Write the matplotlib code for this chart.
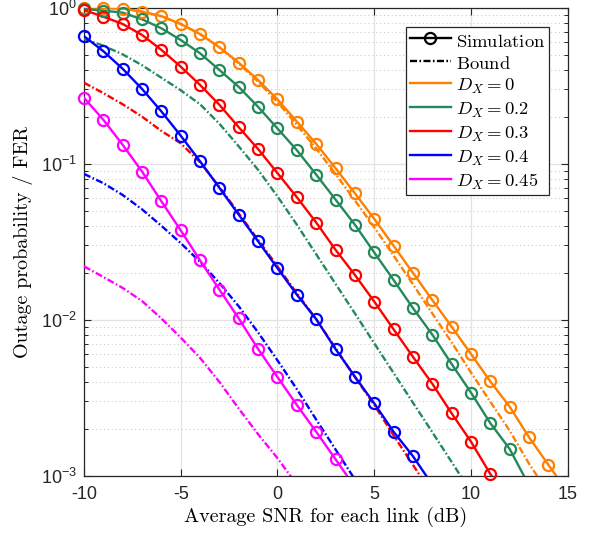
import numpy as np
import matplotlib
matplotlib.use("Agg")
import matplotlib.pyplot as plt
from matplotlib.lines import Line2D
from matplotlib.ticker import LogLocator, NullFormatter, FixedLocator

plt.rcParams['mathtext.fontset'] = 'cm'
plt.rcParams['font.family'] = ['Liberation Sans', 'DejaVu Sans']
plt.rcParams['axes.unicode_minus'] = False

# ---------------- data ----------------
snr_start = -10
orange_sim = [1.0, 0.995, 0.985, 0.94, 0.88, 0.784, 0.676, 0.556, 0.443, 0.343, 0.258,
              0.186, 0.134, 0.0935, 0.0646, 0.0443, 0.0298, 0.020, 0.0134, 0.00904,
              0.00605, 0.00403, 0.00278, 0.00177, 0.00118, 0.00079]
orange_bound = [1.0, 0.995, 0.985, 0.94, 0.88, 0.784, 0.676, 0.556, 0.438, 0.335, 0.248,
                0.177, 0.125, 0.0859, 0.0582, 0.0392, 0.0258, 0.0169, 0.011, 0.00718,
                0.0046, 0.00299, 0.00195, 0.0012, 0.00078]
green_sim = [0.978, 0.955, 0.927, 0.84, 0.736, 0.619, 0.509, 0.398, 0.31, 0.231, 0.168,
             0.122, 0.0851, 0.0589, 0.0407, 0.027, 0.018, 0.0119, 0.00805, 0.00522,
             0.00342, 0.00218, 0.00149, 0.00087]
green_bound = [0.631, 0.569, 0.501, 0.427, 0.355, 0.295, 0.240, 0.180, 0.129, 0.0912,
               0.0617, 0.0407, 0.0263, 0.0170, 0.0110, 0.00708, 0.00457, 0.00295,
               0.00191, 0.00123, 0.00079]
red_sim = [0.964, 0.873, 0.784, 0.667, 0.535, 0.418, 0.319, 0.238, 0.171, 0.124, 0.087,
           0.061, 0.042, 0.0281, 0.0194, 0.0131, 0.0087, 0.0058, 0.0039, 0.00252,
           0.00166, 0.00103, 0.00066]
red_bound = [0.33, 0.283, 0.24, 0.2, 0.162, 0.135, 0.102, 0.071, 0.048, 0.0325, 0.022,
             0.0148, 0.0101, 0.0066, 0.0043, 0.00285, 0.00182, 0.00118, 0.00076]
blue_sim = [0.655, 0.525, 0.405, 0.301, 0.216, 0.151, 0.1035, 0.0699, 0.0471, 0.0318,
            0.0214, 0.0145, 0.0101, 0.0065, 0.00433, 0.00292, 0.00192, 0.00134, 0.00088]
blue_bound = [0.086, 0.075, 0.063, 0.051, 0.040, 0.031, 0.0235, 0.0172, 0.0122, 0.0083,
              0.0055, 0.0036, 0.0023, 0.00148, 0.00095, 0.0006]
magenta_sim = [0.264, 0.191, 0.132, 0.089, 0.0574, 0.0374, 0.024, 0.0156, 0.0102, 0.0065,
               0.0043, 0.00285, 0.00192, 0.00128, 0.00085]
magenta_bound = [0.022, 0.0188, 0.016, 0.0132, 0.0102, 0.0077, 0.0057, 0.0040, 0.0027,
                 0.00185, 0.0013, 0.00088, 0.00058]

dx_labels = [r'$D_X = 0$', r'$D_X = 0.2$', r'$D_X = 0.3$', r'$D_X = 0.4$', r'$D_X = 0.45$']
colors = ['#FF8000', '#23895A', '#FF0000', '#0000FF', '#FF00FF']
sims = [orange_sim, green_sim, red_sim, blue_sim, magenta_sim]
bounds = [orange_bound, green_bound, red_bound, blue_bound, magenta_bound]
x_ticks = [-10, -5, 0, 5, 10, 15]
y_min, y_max = 1e-3, 1.0

# ---------------- figure ----------------
fig = plt.figure(figsize=(5.95, 5.38), dpi=100)
ax = fig.add_axes([84/595, 1-476/538, (567.7-84)/595, (476-7.5)/538])

LW = 1.7
MS = 8.0
MEW = 1.6
dashdot = (0, (3.0, 1.0, 0.7, 1.0))
for sim, bnd, c in zip(sims, bounds, colors):
    xs = np.arange(snr_start, snr_start + len(sim))
    xb = np.arange(snr_start, snr_start + len(bnd))
    ax.plot(xs, sim, '-', color=c, lw=LW, zorder=3)
    sim_arr = np.array(sim)
    keep = sim_arr >= y_min
    ax.plot(xs[keep], sim_arr[keep], 'o', color=c, mfc='none', ms=MS, mew=MEW,
            clip_on=False, zorder=4)
    ax.plot(xb, bnd, color=c, lw=LW, ls=dashdot, zorder=3)

ax.set_yscale('log')
ax.set_xlim(-10, 15)
ax.set_ylim(y_min, y_max)
ax.xaxis.set_major_locator(FixedLocator(x_ticks))
ax.yaxis.set_major_locator(LogLocator(base=10, numticks=10))
ax.yaxis.set_minor_locator(LogLocator(base=10, subs=np.arange(2, 10), numticks=20))
ax.yaxis.set_minor_formatter(NullFormatter())

ax.set_axisbelow(True)
ax.grid(which='major', color='#e3e3e3', lw=0.9, ls='-')
ax.grid(which='minor', axis='y', color='#cccccc', lw=0.8, ls=(0, (1, 2.5)))

for s in ax.spines.values():
    s.set_color('#262626')
    s.set_linewidth(0.9)
ax.tick_params(which='both', direction='in', top=True, right=True, colors='#262626',
               labelsize=13)
ax.tick_params(which='major', length=5, width=0.8)
ax.tick_params(which='minor', length=3, width=0.7)
ax.tick_params(axis='x', pad=7)
ax.tick_params(axis='y', pad=5)

ax.set_xlabel('Average SNR for each link (dB)', family='cmr10', fontsize=14.5, labelpad=3)
ax.set_ylabel('Outage probability / FER', family='cmr10', fontsize=14.5, labelpad=6)

handles = [Line2D([], [], color='k', lw=LW, marker='o', mfc='none', ms=MS, mew=MEW),
           Line2D([], [], color='k', lw=LW, ls=dashdot)]
labels = [r'$\mathrm{Simulation}$', r'$\mathrm{Bound}$']
for c, lab in zip(colors, dx_labels):
    handles.append(Line2D([], [], color=c, lw=LW))
    labels.append(lab)
leg = ax.legend(handles, labels, loc='upper right', bbox_to_anchor=(0.962, 0.959),
                borderaxespad=0, prop={'family': 'cmr10', 'size': 13.4},
                handlelength=2.2, handletextpad=0.3, labelspacing=0.14,
                handleheight=1.25, borderpad=0.2, frameon=True, fancybox=False,
                framealpha=1)
leg.get_frame().set_edgecolor('#262626')
leg.get_frame().set_linewidth(0.9)

fig.savefig('out.png', dpi=100)
